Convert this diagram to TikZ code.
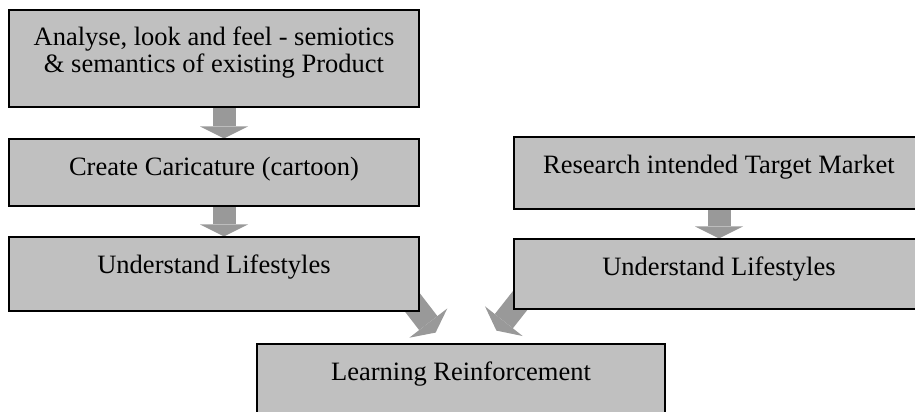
\documentclass[tikz,border=0pt]{standalone}
\usepackage{fontspec}
\setmainfont{Liberation Serif}
\usetikzlibrary{arrows.meta,calc}

\definecolor{boxgray}{RGB}{192,192,192}
\definecolor{arrowgray}{RGB}{153,153,153}
\pgfdeclarelayer{back}
\pgfsetlayers{back,main}

\begin{document}
\begin{tikzpicture}[x=1pt,y=-1pt,
    stepbox/.style={draw=black, line width=1.2pt, fill=boxgray, minimum width=410pt,
        inner xsep=0pt, inner ysep=0pt, text height=36pt, align=center,
        font=\fontsize{26.5}{27}\selectfont},
    blockarrow/.style={draw=arrowgray, line width=23pt,
        -{Triangle[width=48pt,length=12pt,line width=0pt]}}]

    \path[use as bounding box, clip] (0,0) rectangle (915,412);

    \draw(214,58.5) node[stepbox, text height=63pt, text depth=34pt] (analyse) {Analyse, look and feel - semiotics\\ \& semantics of existing Product};
    \draw(214,172.5) node[stepbox, text depth=31pt] (caricature) {Create Caricature (cartoon)};
    \draw(214,274) node[stepbox, text depth=38pt] (lifeleft) {Understand Lifestyles};

    \draw(719,173) node[stepbox, text depth=36pt] (research) {Research intended Target Market};
    \draw(719,274) node[stepbox, text depth=34pt] (liferight) {Understand Lifestyles};

    \draw(461,387) node[stepbox, minimum width=408pt, text depth=50pt] (learning) {Learning Reinforcement};

    \begin{pgfonlayer}{back}
    \draw[blockarrow] ([xshift=10pt]analyse.south) -- ([xshift=10pt]caricature.north);
    \draw[blockarrow] ([xshift=10pt]caricature.south) -- ([xshift=10pt]lifeleft.north);
    \draw[blockarrow] (research.south) -- (liferight.north);
    \draw[blockarrow] ($(lifeleft.south east)+(-24,-31)$) -- ($(lifeleft.south east)+(16,21)$);
    \draw[blockarrow] ($(liferight.south west)+(24,-31)$) -- ($(liferight.south west)+(-17,21)$);
    \end{pgfonlayer}

\end{tikzpicture}
\end{document}
